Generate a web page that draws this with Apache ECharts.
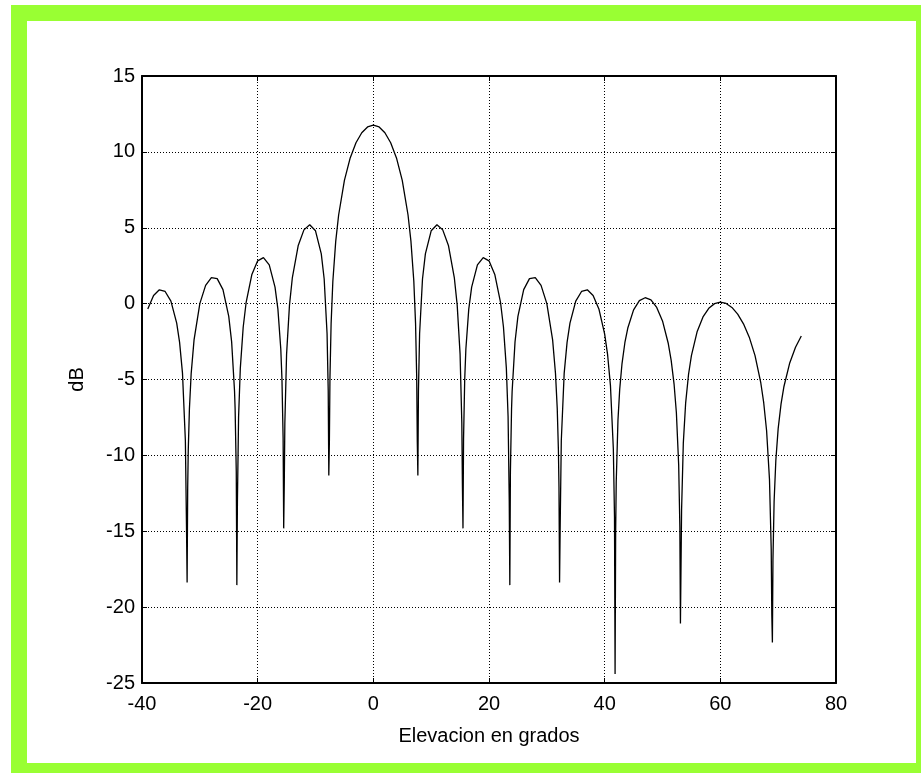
<!DOCTYPE html>
<html>
<head>
    <meta charset="UTF-8">
    <title>Elevacion en grados</title>
    <script src="https://cdn.jsdelivr.net/npm/echarts@6/dist/echarts.min.js"></script>
    <style>
      body{
        margin: 0;
        background: #fff;
      }
      .marco{
        position: absolute;
        left: 11px;
        top: 5px;
        width: 920px;
        height: 780px;
        background: #99ff33;
      }
      .hoja{
        position: absolute;
        left: 27px;
        top: 21px;
        width: 889px;
        height: 742px;
        background: #fff;
      }
      #container{
        position: absolute;
        left: 0;
        top: 0;
        width: 921px;
        height: 773px;
      }
    </style>
</head>
<body>
<div class="marco"></div>
<div class="hoja"></div>
<div id="container"></div>

<script>
    // angulos de elevacion (grados) y nivel en dB
    var elevacion = [
        -39, -38, -37, -36, -35, -34, -33.5, -33, -32.5, -32.3, -32.2, -32.1, -32, -31.8, -31.5, -31,
        -30, -29, -28, -27, -26, -25, -24.5, -24, -23.9, -23.7, -23.6, -23.5, -23.3, -23, -22.5, -22,
        -21, -20, -19, -18, -17, -16.5, -16, -15.8, -15.6, -15.5, -15.4, -15.3, -15, -14.5, -14,
        -13, -12, -11, -10, -9, -8.5, -8, -7.8, -7.7, -7.6, -7.5, -7.3, -7, -6.5, -6,
        -5, -4, -3, -2, -1, 0, 1, 2, 3, 4, 5,
        6, 6.5, 7, 7.3, 7.5, 7.6, 7.7, 7.8, 8, 8.5, 9, 10, 11, 12, 13,
        14, 14.5, 15, 15.3, 15.4, 15.5, 15.6, 15.8, 16, 16.5, 17, 18, 19, 20, 21,
        22, 22.5, 23, 23.3, 23.5, 23.6, 23.7, 23.9, 24, 24.5, 25, 26, 27, 28, 29,
        30, 31, 31.5, 31.8, 32, 32.1, 32.2, 32.3, 32.5, 33, 33.5, 34, 35, 36, 37, 38,
        39, 40, 40.5, 41, 41.5, 41.7, 41.8, 41.9, 42, 42.3, 42.6, 43, 43.5, 44, 45,
        46, 47, 48, 49, 50, 51, 51.5, 52, 52.4, 52.8, 53, 53.1, 53.3, 53.6, 54, 54.5,
        55, 56, 57, 58, 59, 60, 61, 62, 63, 64, 65, 66, 67, 67.5, 68,
        68.5, 68.8, 68.9, 69, 69.1, 69.3, 69.6, 70, 70.5, 71, 72, 73, 74
    ]
    var nivelDb = [
        -0.35, 0.54, 0.91, 0.80, 0.16, -1.29, -2.55, -4.58, -9.03, -14.90, -18.37, -12.12, -9.64, -6.92, -4.62, -2.39,
        0.00, 1.20, 1.71, 1.65, 0.92, -0.84, -2.52, -5.77, -6.92, -11.09, -18.55, -12.98, -7.45, -4.25, -1.54, 0.06,
        1.92, 2.82, 3.03, 2.55, 1.09, -0.36, -3.01, -4.98, -8.88, -14.81, -11.90, -7.87, -3.33, -0.10, 1.72,
        3.81, 4.86, 5.20, 4.80, 3.28, 1.62, -1.99, -5.76, -11.33, -9.10, -4.89, -1.30, 1.47, 4.12, 5.84,
        8.12, 9.60, 10.60, 11.26, 11.64, 11.76, 11.64, 11.26, 10.60, 9.60, 8.12,
        5.84, 4.12, 1.47, -1.30, -4.89, -9.10, -11.33, -5.76, -1.99, 1.62, 3.28, 4.80, 5.20, 4.86, 3.81,
        1.72, -0.10, -3.33, -7.87, -11.90, -14.81, -8.88, -4.98, -3.01, -0.36, 1.09, 2.55, 3.03, 2.82, 1.92,
        0.06, -1.54, -4.25, -7.45, -12.98, -18.55, -11.09, -6.92, -5.77, -2.52, -0.84, 0.92, 1.65, 1.71, 1.20,
        0.00, -2.39, -4.62, -6.92, -9.64, -12.12, -18.37, -14.90, -9.03, -4.58, -2.55, -1.29, 0.16, 0.80, 0.91, 0.54,
        -0.35, -2.01, -3.34, -5.40, -9.58, -14.07, -24.40, -15.00, -11.74, -7.67, -5.65, -3.95, -2.56, -1.61, -0.41,
        0.20, 0.39, 0.25, -0.25, -1.14, -2.63, -3.74, -5.30, -7.19, -10.66, -14.71, -21.08, -13.57, -9.18, -6.56, -4.67,
        -3.43, -1.83, -0.88, -0.31, 0.00, 0.10, 0.01, -0.25, -0.69, -1.33, -2.21, -3.43, -5.23, -6.53, -8.38,
        -11.60, -16.22, -20.48, -22.33, -16.84, -13.01, -10.30, -8.24, -6.61, -5.46, -3.91, -2.87, -2.13
    ]
    var xTicks = {min: -40, max: 80, step: 20}
    var yTicks = {min: -25, max: 15, step: 5}

    var serie = []
    for (var i = 0; i < elevacion.length; i++) {
        serie.push([elevacion[i], nivelDb[i]])
    }

    var fuente = 'Liberation Sans, Arial, sans-serif'
    var negro = '#000000'

    var dom = document.getElementById('container')
    var myChart = echarts.init(dom)
    var option = {
        animation: false,
        grid: {
            left: 142,
            right: 85,
            top: 76,
            bottom: 90
        },
        xAxis: [
            {
                type: 'value',
                position: 'bottom',
                min: xTicks.min,
                max: xTicks.max,
                interval: xTicks.step,
                name: 'Elevacion en grados',
                nameLocation: 'middle',
                nameGap: 43,
                nameTextStyle: {color: negro, fontSize: 20, fontFamily: fuente},
                axisLine: {onZero: false, lineStyle: {color: negro, width: 2}},
                axisTick: {inside: true, length: 5, lineStyle: {color: negro, width: 1}},
                axisLabel: {color: negro, fontSize: 20, fontFamily: fuente, margin: 11},
                splitLine: {show: true, lineStyle: {color: negro, width: 1, type: [1, 2]}}
            },
            {
                type: 'value',
                position: 'top',
                min: xTicks.min,
                max: xTicks.max,
                interval: xTicks.step,
                axisLine: {onZero: false, lineStyle: {color: negro, width: 2}},
                axisTick: {inside: true, length: 5, lineStyle: {color: negro, width: 1}},
                axisLabel: {show: false},
                splitLine: {show: false}
            }
        ],
        yAxis: [
            {
                type: 'value',
                position: 'left',
                min: yTicks.min,
                max: yTicks.max,
                interval: yTicks.step,
                name: 'dB',
                nameLocation: 'middle',
                nameGap: 55,
                nameRotate: 90,
                nameTextStyle: {color: negro, fontSize: 20, fontFamily: fuente},
                axisLine: {onZero: false, lineStyle: {color: negro, width: 2}},
                axisTick: {inside: true, length: 5, lineStyle: {color: negro, width: 1}},
                axisLabel: {color: negro, fontSize: 20, fontFamily: fuente, margin: 7},
                splitLine: {show: true, lineStyle: {color: negro, width: 1, type: [1, 2]}}
            },
            {
                type: 'value',
                position: 'right',
                min: yTicks.min,
                max: yTicks.max,
                interval: yTicks.step,
                axisLine: {onZero: false, lineStyle: {color: negro, width: 2}},
                axisTick: {inside: true, length: 5, lineStyle: {color: negro, width: 1}},
                axisLabel: {show: false},
                splitLine: {show: false}
            }
        ],
        series: [
            {
                type: 'line',
                xAxisIndex: 0,
                yAxisIndex: 0,
                data: serie,
                showSymbol: false,
                smooth: false,
                lineStyle: {color: negro, width: 1.3}
            }
        ]
    }
    myChart.setOption(option)
</script>
</body>
</html>
